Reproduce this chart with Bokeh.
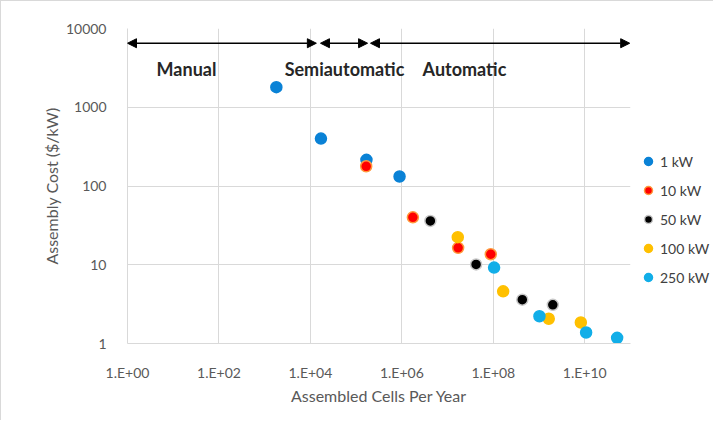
from bokeh.plotting import figure
from bokeh.models import (ColumnDataSource, FixedTicker, Legend, LegendItem,
                          Arrow, NormalHead, Label)
from bokeh.embed import file_html
from bokeh.resources import INLINE

# ---- data ----
series_names = ["1 kW", "10 kW", "50 kW", "100 kW", "250 kW"]

kw1_x = [1.8e3, 1.7e4, 1.68e5, 8.9e5]
kw1_y = [1800, 400, 215, 132]

kw10_x = [1.66e5, 1.74e6, 1.7e7, 8.8e7]
kw10_y = [178, 40, 16.4, 13.6]

kw50_x = [4.2e6, 4.2e7, 4.3e8, 2.0e9]
kw50_y = [36, 10.1, 3.6, 3.1]

kw100_x = [1.67e7, 1.64e8, 1.63e9, 8.2e9]
kw100_y = [22.4, 4.6, 2.06, 1.85]

kw250_x = [1.04e8, 1.02e9, 1.07e10, 5.1e10]
kw250_y = [9.2, 2.22, 1.38, 1.18]

x_ticks = [1, 100, 10**4, 10**6, 10**8, 10**10]
x_tick_labels = ["1.E+00", "1.E+02", "1.E+04", "1.E+06", "1.E+08", "1.E+10"]
y_ticks = [1, 10, 100, 1000, 10000]
y_tick_labels = ["1", "10", "100", "1000", "10000"]

# production regimes (start, end) in cells per year, and their labels
regime_names = ["Manual", "Semiautomatic", "Automatic"]
regime_start = [1.0, 1.66e4, 2.06e5]
regime_end = [1.35e4, 1.78e5, 9.6e10]
regime_label_x = [19.5, 5.56e4, 2.34e7]
arrow_y = 6500
regime_label_y = 3100

colors = ["#0a82d6", "#ff0000", "#000000", "#ffc000", "#12aee8"]
edge_colors = ["#0a82d6", "#ff9a3c", "#c8c8c8", "#ffc000", "#12aee8"]

FONT = "Lato"
TEXT_COLOR = "#595959"

p = figure(x_axis_type="log", y_axis_type="log",
           x_range=(1, 1e11), y_range=(1, 10000),
           frame_width=503, frame_height=315,
           min_border_left=126, min_border_top=27,
           min_border_right=78, min_border_bottom=77,
           output_backend="svg", toolbar_location=None)
p.outline_line_color = None
p.background_fill_color = "white"
p.border_fill_color = "white"
p.styles = {"border-left": "1px solid #d9d9d9", "border-top": "1px solid #d9d9d9"}

# axes
p.xaxis.ticker = FixedTicker(ticks=x_ticks)
p.yaxis.ticker = FixedTicker(ticks=y_ticks)
p.xaxis.major_label_overrides = dict(zip(x_ticks, x_tick_labels))
p.yaxis.major_label_overrides = dict(zip(y_ticks, y_tick_labels))
for ax in (p.xaxis[0], p.yaxis[0]):
    ax.major_tick_line_color = None
    ax.minor_tick_line_color = None
    ax.axis_line_color = "#d9d9d9"
    ax.major_label_text_font = FONT
    ax.major_label_text_font_size = "14px"
    ax.major_label_text_color = TEXT_COLOR
    ax.axis_label_text_font = FONT
    ax.axis_label_text_font_size = "16px"
    ax.axis_label_text_font_style = "normal"
    ax.axis_label_text_color = TEXT_COLOR
p.xaxis.axis_label = "Assembled Cells Per Year"
p.yaxis.axis_label = "Assembly Cost ($/kW)"
p.xaxis.major_label_standoff = 14
p.yaxis.major_label_standoff = 15
p.xaxis.axis_label_standoff = 2
p.yaxis.axis_label_standoff = 2

p.xgrid.ticker = FixedTicker(ticks=x_ticks)
p.ygrid.ticker = FixedTicker(ticks=y_ticks)
p.xgrid.grid_line_color = "#d9d9d9"
p.ygrid.grid_line_color = "#d9d9d9"

# series
all_x = [kw1_x, kw10_x, kw50_x, kw100_x, kw250_x]
all_y = [kw1_y, kw10_y, kw50_y, kw100_y, kw250_y]
renderers = []
for xs, ys, c, ec in zip(all_x, all_y, colors, edge_colors):
    src = ColumnDataSource(dict(x=xs, y=ys))
    r = p.scatter("x", "y", source=src, size=11, fill_color=c,
                  line_color=ec, line_width=1.5)
    renderers.append(r)

legend = Legend(items=[LegendItem(label=n, renderers=[r])
                       for n, r in zip(series_names, renderers)],
                location=(8, 56), orientation="vertical",
                border_line_color=None, background_fill_alpha=0,
                padding=0, margin=0, spacing=9, glyph_width=20,
                glyph_height=20, label_height=20, label_standoff=2,
                label_text_font=FONT, label_text_font_size="14px",
                label_text_color="#404040")
p.add_layout(legend, "right")

# regime arrows and labels
for xs, xe in zip(regime_start, regime_end):
    p.add_layout(Arrow(x_start=xs, y_start=arrow_y, x_end=xe, y_end=arrow_y,
                       line_color="black", line_width=1.5,
                       start=NormalHead(size=9, fill_color="black", line_color="black"),
                       end=NormalHead(size=9, fill_color="black", line_color="black")))
for name, lx in zip(regime_names, regime_label_x):
    p.add_layout(Label(x=lx, y=regime_label_y, text=name,
                       text_align="center", text_baseline="middle",
                       text_font=FONT, text_font_size="18px",
                       text_font_style="bold", text_color="#262626"))

open("out.html", "w").write(file_html(p, INLINE))
